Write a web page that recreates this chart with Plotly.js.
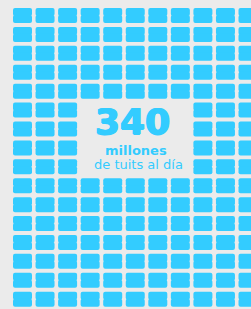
<!DOCTYPE html>
<html>
<head>
<meta charset="utf-8">
<script src="https://cdn.plot.ly/plotly-3.0.1.min.js"></script>
<style>
  html, body { margin: 0; padding: 0; background: #EBEBEB; }
  #chart { width: 251px; height: 309px; }
</style>
</head>
<body>
<div id="chart"></div>
<script>
// ---- data ----
const columnIndex = [0, 1, 2, 3, 4, 5, 6, 7, 8, 9, 10];
const rowIndex = [0, 1, 2, 3, 4, 5, 6, 7, 8, 9, 10, 11, 12, 13, 14, 15];
const boxColumns = [3, 4, 5, 6, 7];   // cells left empty for the text panel
const boxRows = [5, 6, 7, 8];
const headline = "340";
const unitLabel = "millones";
const caption = "de tuits al día";

// ---- build cells ----
const cellX = [];
const cellY = [];
rowIndex.forEach(r => {
  columnIndex.forEach(c => {
    if (boxColumns.includes(c) && boxRows.includes(r)) return;
    cellX.push(c);
    cellY.push(r);
  });
});

const CYAN = '#33CCFF';
const BG = '#EBEBEB';
const halfH = 0.3966;   // half cell height in row units
const ov = 0.03;        // small overlap so the halves join cleanly
const cellW = 0.8426;

const upper = {
  type: 'bar', x: cellX,
  base: cellY.map(v => v + ov),
  y: cellY.map(() => -(halfH + ov)),
  width: cellW,
  marker: { color: CYAN, line: { width: 0 }, cornerradius: 2 },
  hoverinfo: 'skip', showlegend: false
};
const lower = {
  type: 'bar', x: cellX,
  base: cellY.map(v => v - ov),
  y: cellY.map(() => (halfH + ov)),
  width: cellW,
  marker: { color: CYAN, line: { width: 0 }, cornerradius: 2 },
  hoverinfo: 'skip', showlegend: false
};

const W = 251, H = 309;
const px = v => v / W;
const py = v => 1 - v / H;

const layout = {
  width: W, height: H,
  margin: { l: 0, r: 0, t: 0, b: 0, pad: 0 },
  paper_bgcolor: BG, plot_bgcolor: BG,
  barmode: 'overlay',
  showlegend: false,
  xaxis: { range: [-22.5 / 22.55, (W - 22.5) / 22.55], visible: false, fixedrange: true },
  yaxis: { range: [(H - 15.5) / 18.913, -15.5 / 18.913], visible: false, fixedrange: true },
  annotations: [
    { text: '<b>' + headline + '</b>', xref: 'paper', yref: 'paper',
      x: px(132.5), y: py(121.5), xanchor: 'center', yanchor: 'middle', showarrow: false,
      font: { family: 'DejaVu Sans', size: 36, color: CYAN,
              shadow: '0.8px 0 0 #33CCFF, -0.8px 0 0 #33CCFF, 0 0.6px 0 #33CCFF' } },
    { text: '<b>' + unitLabel + '</b>', xref: 'paper', yref: 'paper',
      x: px(136), y: py(150.5), xanchor: 'center', yanchor: 'middle', showarrow: false,
      font: { family: 'DejaVu Sans', size: 13, color: CYAN } },
    { text: caption, xref: 'paper', yref: 'paper',
      x: px(138.8), y: py(164.5), xanchor: 'center', yanchor: 'middle', showarrow: false,
      font: { family: 'DejaVu Sans', size: 13, color: CYAN } }
  ]
};

Plotly.newPlot('chart', [upper, lower], layout, { displayModeBar: false, staticPlot: true });
</script>
</body>
</html>
